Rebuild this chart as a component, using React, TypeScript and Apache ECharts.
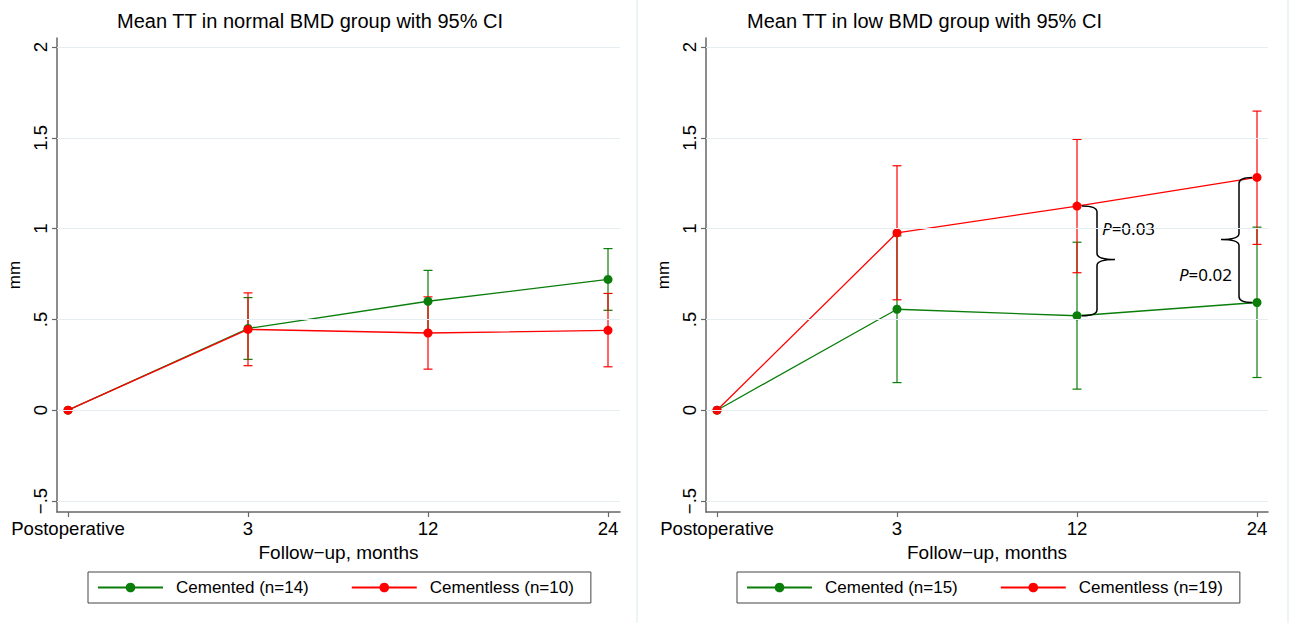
import React, { useEffect, useRef } from "react";
import * as echarts from "echarts";

const categories = ["Postoperative", "3", "12", "24"];
const xPositions = [0, 1, 2, 3];
const yTicks = [-0.5, 0, 0.5, 1, 1.5, 2];
const yTickLabels = ["\u2212.5", "0", ".5", "1", "1.5", "2"];

const titles = ["Mean TT in normal BMD group with 95% CI", "Mean TT in low BMD group with 95% CI"];
const legendNames = [
  ["Cemented (n=14)", "Cementless (n=10)"],
  ["Cemented (n=15)", "Cementless (n=19)"],
];

// Normal BMD group
const normalCementedMean = [0, 0.45, 0.6, 0.72];
const normalCementedLow = [null, 0.28, 0.43, 0.55];
const normalCementedHigh = [null, 0.62, 0.77, 0.89];
const normalCementlessMean = [0, 0.445, 0.425, 0.44];
const normalCementlessLow = [null, 0.245, 0.226, 0.239];
const normalCementlessHigh = [null, 0.646, 0.624, 0.643];

// Low BMD group
const lowCementedMean = [0, 0.556, 0.52, 0.593];
const lowCementedLow = [null, 0.152, 0.116, 0.18];
const lowCementedHigh = [null, 0.96, 0.925, 1.008];
const lowCementlessMean = [0, 0.977, 1.124, 1.282];
const lowCementlessLow = [null, 0.608, 0.757, 0.913];
const lowCementlessHigh = [null, 1.346, 1.491, 1.647];

// P-value braces (low BMD panel)
const braceX = [2, 3];
const braceTip = [0.83, 0.94];
const braceLabelY = [1.0, 0.75];
const braceLabels = ["0.03", "0.02"];
const braceSide = [1, -1];

const GREEN = "#0a7d0a";
const RED = "#ff0000";
const FONT = "Liberation Sans";

const gridLeft = [57, 706];
const gridWidth = [563, 562];
const GRID_TOP = 38;
const GRID_HEIGHT = 474;

function errorBars(color: string, axis: number, low: (number | null)[], high: (number | null)[]) {
  const data = xPositions
    .map((x, i) => [x, low[i], high[i]])
    .filter((d) => d[1] != null);
  return {
    type: "custom",
    xAxisIndex: axis,
    yAxisIndex: axis,
    silent: true,
    z: 2,
    data,
    encode: { x: 0, y: [1, 2] },
    renderItem: (params: any, api: any) => {
      const x = api.value(0);
      const lo = api.coord([x, api.value(1)]);
      const hi = api.coord([x, api.value(2)]);
      const w = 4.5;
      const style = { stroke: color, lineWidth: 1.2 };
      return {
        type: "group",
        children: [
          { type: "line", shape: { x1: lo[0], y1: lo[1], x2: hi[0], y2: hi[1] }, style },
          { type: "line", shape: { x1: lo[0] - w, y1: lo[1], x2: lo[0] + w, y2: lo[1] }, style },
          { type: "line", shape: { x1: hi[0] - w, y1: hi[1], x2: hi[0] + w, y2: hi[1] }, style },
        ],
      };
    },
  };
}

function meanLine(name: string, color: string, axis: number, mean: number[]) {
  return {
    type: "line",
    name,
    xAxisIndex: axis,
    yAxisIndex: axis,
    z: 3,
    data: xPositions.map((x, i) => [x, mean[i]]),
    symbol: "circle",
    symbolSize: 9,
    showSymbol: true,
    lineStyle: { color, width: 1.3 },
    itemStyle: { color },
    color,
  };
}

function gridLines(axis: number) {
  return {
    type: "line",
    xAxisIndex: axis,
    yAxisIndex: axis,
    z: 0,
    data: [],
    silent: true,
    markLine: {
      silent: true,
      symbol: "none",
      label: { show: false },
      animation: false,
      lineStyle: { color: "#e6edf0", width: 1, type: "solid" },
      data: yTicks.map((v) => ({ yAxis: v })),
    },
  };
}

function braceSeries() {
  const data = braceX.map((x, i) => [
    x,
    lowCementlessMean[x],
    lowCementedMean[x],
    braceTip[i],
    braceLabelY[i],
    braceSide[i],
  ]);
  return {
    type: "custom",
    xAxisIndex: 1,
    yAxisIndex: 1,
    silent: true,
    z: 4,
    data,
    encode: { x: 0, y: [1, 2] },
    renderItem: (params: any, api: any) => {
      const i = params.dataIndex;
      const x = api.value(0);
      const top = api.coord([x, api.value(1)]);
      const bot = api.coord([x, api.value(2)]);
      const tipY = api.coord([x, api.value(3)])[1];
      const labY = api.coord([x, api.value(4)])[1];
      const side = api.value(5);
      const px = top[0];
      const off = side > 0 ? 20 : 18;
      const bx = px + side * off;
      const tx = bx + side * 18;
      const hx = px + side * 5;
      const r = 6;
      const d =
        `M${hx},${top[1]} Q${bx},${top[1]} ${bx},${top[1] + r} ` +
        `L${bx},${tipY - r} Q${bx},${tipY} ${tx},${tipY} ` +
        `Q${bx},${tipY} ${bx},${tipY + r} ` +
        `L${bx},${bot[1] - r} Q${bx},${bot[1]} ${hx},${bot[1]}`;
      const text = {
        type: "text",
        x: side > 0 ? bx + 5 : bx - 7,
        y: labY,
        style: {
          text: `{i|P}=${braceLabels[i]}`,
          fill: "#000",
          fontSize: 17,
          fontFamily: "Noto Sans",
          align: side > 0 ? "left" : "right",
          verticalAlign: "middle",
          rich: { i: { fontStyle: "italic", fontSize: 17, fontFamily: "Noto Sans", fill: "#000" } },
        },
      };
      return {
        type: "group",
        children: [
          { type: "path", shape: { pathData: d }, style: { stroke: "#000", fill: "none", lineWidth: 1.5 } },
          text,
        ],
      };
    },
  };
}

export default function App() {
  const ref = useRef<HTMLDivElement>(null);
  useEffect(() => {
    if (!ref.current) return;
    const chart = echarts.init(ref.current, null, { renderer: "svg" });
    const axisColor = "#666666";
    const makeX = (i: number) => ({
      type: "value",
      gridIndex: i,
      min: -11 / 180,
      max: 3 + (i === 0 ? 12 : 11) / 180,
      name: "Follow\u2212up, months",
      nameLocation: "middle",
      nameGap: 27,
      nameTextStyle: { fontSize: 19, color: "#000", fontFamily: FONT },
      axisLine: { show: true, onZero: false, lineStyle: { color: axisColor, width: 1.5 } },
      axisTick: { show: true, length: 5, customValues: xPositions, lineStyle: { color: axisColor, width: 1.2 } },
      axisLabel: {
        customValues: xPositions,
        formatter: (v: number) => categories[Math.round(v)] ?? "",
        fontSize: 18.6,
        color: "#000",
        fontFamily: FONT,
        margin: 7,
      },
      splitLine: { show: false },
    });
    const makeY = (i: number) => ({
      type: "value",
      gridIndex: i,
      min: -0.5 - 11 / 181.6,
      max: 2 + 9 / 181.6,
      name: "mm",
      nameLocation: "middle",
      nameRotate: 90,
      nameGap: 34,
      nameTextStyle: { fontSize: 17, color: "#000", fontFamily: FONT },
      axisLine: { show: true, onZero: false, lineStyle: { color: axisColor, width: 1.5 } },
      axisTick: { show: true, length: 5, customValues: yTicks, lineStyle: { color: axisColor, width: 1.2 } },
      axisLabel: {
        customValues: yTicks,
        rotate: 90,
        formatter: (v: number) => {
          const k = yTicks.findIndex((t) => Math.abs(t - v) < 1e-6);
          return k >= 0 ? yTickLabels[k] : "";
        },
        fontSize: 18.6,
        color: "#000",
        fontFamily: FONT,
        margin: 7,
      },
      splitLine: { show: false },
    });
    const legend = (i: number, left: number) => ({
      data: legendNames[i],
      left,
      top: 572,
      orient: "horizontal",
      itemWidth: 65,
      itemHeight: 12,
      itemGap: 42,
      padding: [7, 17, 7, 9],
      borderColor: "#444",
      borderWidth: 1,
      borderRadius: 0,
      selectedMode: false,
      textStyle: { fontSize: 17, color: "#000", fontFamily: FONT, padding: [0, 0, 0, 8] },
    });
    chart.setOption({
      animation: false,
      backgroundColor: "#ffffff",
      title: [
        { text: titles[0], left: 112, top: 6, textStyle: { fontSize: 20, fontWeight: "normal", color: "#000", fontFamily: FONT } },
        { text: titles[1], left: 742, top: 6, textStyle: { fontSize: 20, fontWeight: "normal", color: "#000", fontFamily: FONT } },
      ],
      legend: [legend(0, 88), legend(1, 737)],
      grid: [0, 1].map((i) => ({
        left: gridLeft[i],
        top: GRID_TOP,
        width: gridWidth[i],
        height: GRID_HEIGHT,
        containLabel: false,
      })),
      xAxis: [makeX(0), makeX(1)],
      yAxis: [makeY(0), makeY(1)],
      graphic: [
        { type: "line", shape: { x1: 637, y1: 0, x2: 637, y2: 623 }, style: { stroke: "#e9eff2", lineWidth: 1.5 }, silent: true },
        { type: "line", shape: { x1: 1288, y1: 0, x2: 1288, y2: 623 }, style: { stroke: "#e9eff2", lineWidth: 1.5 }, silent: true },
      ],
      series: [
        gridLines(0),
        gridLines(1),
        errorBars(GREEN, 0, normalCementedLow, normalCementedHigh),
        errorBars(RED, 0, normalCementlessLow, normalCementlessHigh),
        errorBars(GREEN, 1, lowCementedLow, lowCementedHigh),
        errorBars(RED, 1, lowCementlessLow, lowCementlessHigh),
        meanLine(legendNames[0][0], GREEN, 0, normalCementedMean),
        meanLine(legendNames[0][1], RED, 0, normalCementlessMean),
        meanLine(legendNames[1][0], GREEN, 1, lowCementedMean),
        meanLine(legendNames[1][1], RED, 1, lowCementlessMean),
        braceSeries(),
      ],
    });
    return () => chart.dispose();
  }, []);
  return (
    <div
      ref={ref}
      style={{ position: "absolute", left: 0, top: 0, width: 1295, height: 623, background: "#fff" }}
    />
  );
}
